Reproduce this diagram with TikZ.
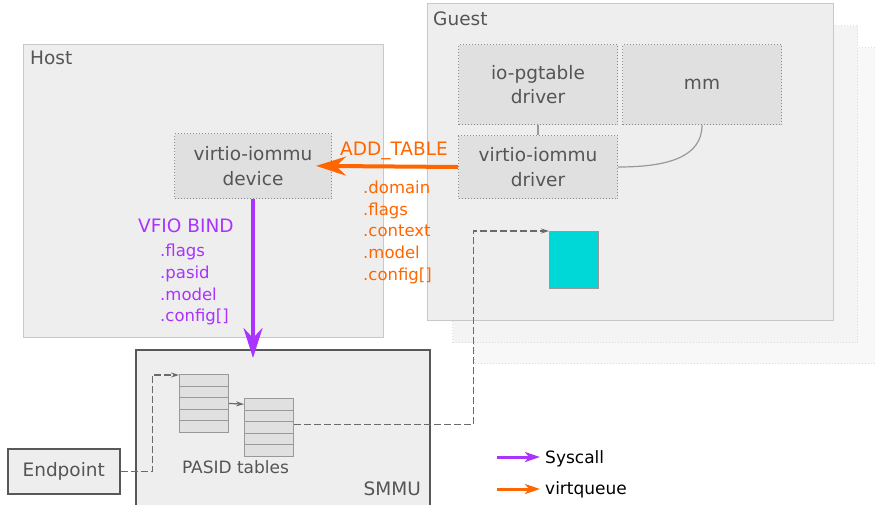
\documentclass[tikz,border=0pt]{standalone}
\usepackage{fontspec}
\setmainfont{DejaVu Sans}
\usetikzlibrary{positioning,arrows.meta}

\definecolor{framefill}{HTML}{EEEEEE}
\definecolor{framegray}{HTML}{C8C8C8}
\definecolor{boxfill}{HTML}{E0E0E0}
\definecolor{dotgray}{HTML}{8C8C8C}
\definecolor{textgray}{HTML}{555555}
\definecolor{edgegray}{HTML}{585858}
\definecolor{linegray}{HTML}{999999}
\definecolor{dashgray}{HTML}{6A6A6A}
\definecolor{ghostA}{HTML}{F4F4F4}
\definecolor{ghostB}{HTML}{F8F8F8}
\definecolor{ghostline}{HTML}{DDDDDD}
\definecolor{qcyan}{HTML}{00D8D8}
\definecolor{syscol}{HTML}{AA33FF}
\definecolor{vqcol}{HTML}{FF6600}

\newcommand{\bigfont}{\fontsize{18.5}{24.5}\selectfont}
\newcommand{\smallfont}{\fontsize{16.5}{21.7}\selectfont}

\begin{document}
\begin{tikzpicture}[x=1pt,y=-1pt,node distance=4pt,
  frame node/.style={draw=framegray,line width=1.4pt,fill=framefill,inner sep=0pt,anchor=north west},
  ghost node/.style={draw=ghostline,dotted,line width=1pt,fill=#1,inner sep=0pt,anchor=north west},
  main node/.style={draw=dotgray,dotted,line width=1pt,fill=boxfill,inner sep=0pt,anchor=north west,align=center,text=textgray,font=\bigfont},
  hw node/.style={draw=edgegray,line width=1.5pt,fill=framefill,inner sep=0pt,anchor=north west,text=textgray,font=\bigfont},
  row node/.style={draw=linegray,line width=0.8pt,fill=boxfill,inner sep=0pt,minimum width=49pt,minimum height=11.6pt,anchor=north west},
  title node/.style={inner sep=0pt,text=textgray,font=\bigfont},
  call/.style={line width=4pt,draw=syscol,-{Stealth[length=30pt,width=19pt,inset=10pt]}},
  queue/.style={line width=4pt,draw=vqcol,-{Stealth[length=30pt,width=19pt,inset=10pt]}},
  ptr/.style={draw=dashgray,line width=1.2pt,dash pattern=on 7pt off 3pt,-{Stealth[length=8pt,width=5pt]}},
  link/.style={draw=linegray,line width=1.2pt}]
\useasboundingbox (0,0) rectangle (875,504);

% guest stack
\node[ghost node=ghostB, minimum width=420pt, minimum height=316pt] (guest3) at (474,47) {};
\node[ghost node=ghostA, minimum width=405pt, minimum height=317pt] (guest2) at (452,25) {};
\node[frame node, minimum width=406pt, minimum height=317pt] (guest) at (427,3) {};
\node[title node, anchor=base west] (guesttitle) at (433,25) {Guest};

\node[frame node, minimum width=360pt, minimum height=293pt] (host) at (23,44) {};
\node[title node, anchor=base west] (hosttitle) at (30,64) {Host};

\node[main node, minimum width=159pt, minimum height=80pt] (pgt) at (458,44) {io-pgtable\\driver};
\node[main node, minimum width=159pt, minimum height=80pt, right=of pgt] (mm) {mm};
\node[main node, minimum width=159pt, minimum height=63pt, below=10pt of pgt] (drv) {virtio-iommu\\driver};
\node[main node, minimum width=157pt, minimum height=65pt] (dev) at (174,133) {virtio-iommu\\device};
\node[draw=linegray, line width=1pt, fill=qcyan, minimum width=49pt, minimum height=57pt, inner sep=0pt, anchor=north west] (vq) at (549,231) {};

% hardware
\node[hw node, minimum width=294pt, minimum height=160pt] (smmu) at (135,349) {};
\node[title node, anchor=base east] (smmutitle) at (421,495) {SMMU};
\node[hw node, minimum width=112pt, minimum height=45pt] (ep) at (7,448) {Endpoint};

\foreach \i in {1,...,5}{
  \node[row node] (ta\i) at (179,{374+11.6*(\i-1)}) {};
  \node[row node] (tb\i) at (244,{398+11.6*(\i-1)}) {};
}
\node[title node, font=\fontsize{17}{20}\selectfont, anchor=base] (pasid) at (235.5,473) {PASID tables};

% labels (base = last line)
\node[inner sep=0pt, text=vqcol, font=\bigfont, anchor=base west] (addtbl) at (340,155) {ADD\_TABLE};
\node[inner sep=0pt, text=vqcol, font=\smallfont, align=left, anchor=base west] (addargs) at (363,280.3) {.domain\\.flags\\.context\\.model\\.config[]};
\node[inner sep=0pt, text=syscol, font=\bigfont, anchor=base west] (bind) at (138,232) {VFIO BIND};
\node[inner sep=0pt, text=syscol, font=\smallfont, align=left, anchor=base west] (bindargs) at (160,321.7) {.flags\\.pasid\\.model\\.config[]};

\draw[link] (pgt) -- (drv);
\draw[link] (mm.south) .. controls +(0,32) and +(50,0) .. (drv.east);
\draw[queue, shorten >=-16pt] (drv.west) -- (dev.east);
\draw[call, shorten >=-9pt] (dev.south) -- (dev.south |- smmu.north);

\draw[ptr] (ep.east) -- ++(32,0) |- ([yshift=-1pt]ta1.north west);
\draw[ptr, solid] (ta3.east) -- (tb1.west);
\draw[ptr] ([yshift=3pt]tb3.east) -- ++(180,0) |- (vq.north west);

% legend
\node[inner sep=0pt, font=\fontsize{17}{20}\selectfont, anchor=base west] (sys) at (545,463) {Syscall};
\node[inner sep=0pt, font=\fontsize{17}{20}\selectfont, anchor=base west] (vqtxt) at (545,494) {virtqueue};
\coordinate (syskey) at (497,457);
\coordinate (vqkey) at (497,489);
\draw[line width=3pt, syscol, shorten >=5pt, -{Stealth[length=15pt,width=10pt,inset=4pt]}] (syskey) -- (syskey -| sys.west);
\draw[line width=3pt, vqcol, shorten >=5pt, -{Stealth[length=15pt,width=10pt,inset=4pt]}] (vqkey) -- (vqkey -| vqtxt.west);
\end{tikzpicture}
\end{document}
